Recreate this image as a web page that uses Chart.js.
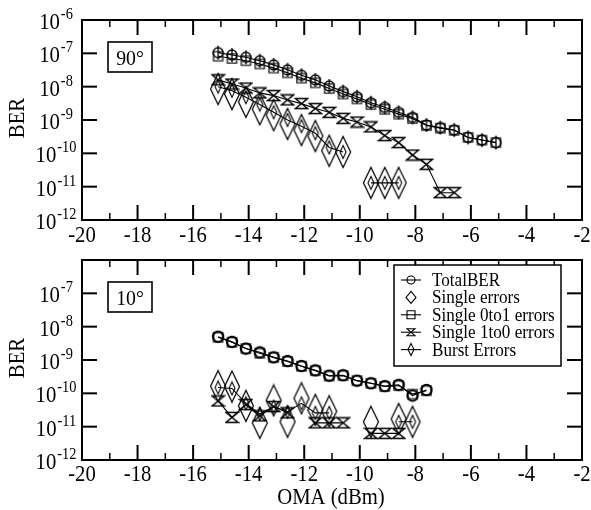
<!DOCTYPE html>
<html>
<head>
<meta charset="utf-8">
<script src="https://cdn.jsdelivr.net/npm/chart.js@4.4.1/dist/chart.umd.min.js"></script>
<style>
  html, body { margin: 0; padding: 0; background: #fff; }
  #wrap { position: relative; width: 591px; height: 510px; }
  canvas { position: absolute; left: 0; }
</style>
</head>
<body>
<div id="wrap">
  <canvas id="top" width="591" height="250" style="top:0"></canvas>
  <canvas id="bot" width="591" height="260" style="top:250px"></canvas>
</div>
<script>
// OMA values (dBm) shared by all series
const omaX = [-15.1, -14.6, -14.1, -13.6, -13.1, -12.6, -12.1, -11.6, -11.1, -10.6,
  -10.1, -9.6, -9.1, -8.6, -8.1, -7.6, -7.1, -6.6, -6.1, -5.6, -5.1];
const xTickLabels = [-20, -18, -16, -14, -12, -10, -8, -6, -4, -2];
const decadesTop = [-12, -11, -10, -9, -8, -7, -6];
const decadesBot = [-12, -11, -10, -9, -8, -7];
const seriesNames = ['TotalBER', 'Single errors', 'Single 0to1 errors', 'Single 1to0 errors', 'Burst Errors'];

// 90 degree panel
const total90 = [1.05e-7, 8.9e-8, 7.6e-8, 6.0e-8, 4.5e-8, 3.2e-8, 2.2e-8, 1.6e-8, 1.05e-8, 7.1e-9,
  5.0e-9, 3.3e-9, 2.4e-9, 1.7e-9, 1.2e-9, 7.1e-10, 5.9e-10, 5.0e-10, 3.0e-10, 2.5e-10, 2.1e-10];
const single0to1_90 = [8.2e-8, 7.0e-8, 6.0e-8, 4.8e-8, 3.6e-8, 2.6e-8, 1.8e-8, 1.3e-8, 8.8e-9, 6.0e-9,
  4.3e-9, 2.9e-9, 2.1e-9, 1.5e-9, 1.1e-9, 6.8e-10, 5.7e-10, 4.9e-10, 3.0e-10, 2.5e-10, 2.1e-10];
const single1to0_90 = [1.6e-8, 1.2e-8, 9.1e-9, 6.5e-9, 5.4e-9, 4.0e-9, 3.1e-9, 2.2e-9, 1.7e-9, 1.12e-9,
  8.7e-10, 6.2e-10, 3.4e-10, 2.1e-10, 8.9e-11, 4.7e-11, 6.6e-12, 6.6e-12, null, null, null];
const single90 = [8.5e-9, 6.0e-9, 3.5e-9, 2.1e-9, 1.4e-9, 7.6e-10, 5.0e-10, 3.3e-10, 1.2e-10, 1.1e-10,
  null, 1.3e-11, 1.3e-11, 1.3e-11, null, null, null, null, null, null, null];
const burst90 = [1.0e-8, 7.5e-9, 4.8e-9, 2.9e-9, 1.7e-9, 1.0e-9, 6.5e-10, 4.0e-10, 1.5e-10, 1.1e-10,
  null, 1.3e-11, 1.3e-11, 1.3e-11, null, null, null, null, null, null, null];

// 10 degree panel
const total10 = [5.0e-9, 3.5e-9, 2.2e-9, 1.7e-9, 1.2e-9, 9.3e-10, 6.6e-10, 4.9e-10, 3.4e-10, 3.5e-10,
  2.4e-10, 2.0e-10, 1.65e-10, 1.8e-10, 8.6e-11, 1.26e-10, null, null, null, null, null];
const single0to1_10 = [4.8e-9, 3.4e-9, 2.2e-9, 1.6e-9, 1.2e-9, 9.0e-10, 6.5e-10, 4.8e-10, 3.3e-10, 3.4e-10,
  2.4e-10, 2.0e-10, 1.6e-10, 1.7e-10, 9.5e-11, 1.2e-10, null, null, null, null, null];
const single1to0_10 = [5.9e-11, 1.9e-11, 4.6e-11, 2.1e-11, 4.0e-11, 2.6e-11, null, 1.3e-11, 1.3e-11, 1.3e-11,
  null, 6.3e-12, 6.3e-12, 6.3e-12, null, null, null, null, null, null, null];
const single10 = [1.65e-10, 1.6e-10, 4.2e-11, 1.3e-11, 6.1e-11, 1.4e-11, 7.1e-11, 3.2e-11, 2.9e-11, null,
  null, 1.4e-11, null, 1.7e-11, 1.4e-11, null, null, null, null, null, null];
const burst10 = [1.5e-10, 1.4e-10, 5.0e-11, 2.4e-11, 4.0e-11, 2.8e-11, 5.0e-11, 2.6e-11, 2.6e-11, null,
  null, null, null, 1.4e-11, 1.4e-11, null, null, null, null, null, null];

const FONT = '"Liberation Serif", "DejaVu Serif", serif';

// marker shapes
function circle(g, cx, cy, rx) { g.moveTo(cx + rx, cy); g.arc(cx, cy, rx, 0, Math.PI * 2); }
function square(g, cx, cy, rx) { g.rect(cx - rx, cy - rx, 2 * rx, 2 * rx); }
function hourglass(g, cx, cy, rx, ry) {
  g.moveTo(cx - rx, cy - ry); g.lineTo(cx + rx, cy - ry);
  g.lineTo(cx - rx, cy + ry); g.lineTo(cx + rx, cy + ry); g.closePath();
}
function diamond(g, cx, cy, rx, ry) {
  g.moveTo(cx, cy - ry); g.lineTo(cx + rx, cy); g.lineTo(cx, cy + ry); g.lineTo(cx - rx, cy); g.closePath();
}
function errbar(g, cx, cy, rx, ry) { circle(g, cx, cy, rx); g.moveTo(cx, cy - ry); g.lineTo(cx, cy + ry); }

function mk(w, h, lw, color, fn, rx, ry) {
  const c = document.createElement('canvas');
  c.width = w; c.height = h;
  const g = c.getContext('2d');
  g.strokeStyle = color; g.lineWidth = lw;
  g.beginPath(); fn(g, w / 2, h / 2, rx, ry); g.stroke();
  return c;
}

const mkCircleBar = mk(14, 16, 1.3, '#000', errbar, 5, 7);
const mkCircleBold = mk(14, 14, 2, '#000', circle, 5.2);
const mkSquare = mk(13, 13, 1.4, '#222', square, 4.6);
const mkHour = mk(15, 13, 1.4, '#000', hourglass, 6, 5);
const mkTall = mk(18, 34, 1.25, '#000', diamond, 7.5, 15.5);
const mkNarrow = mk(10, 16, 1.1, '#000', diamond, 3, 6.5);

function ds(label, data, style, line) {
  return {
    label: label,
    data: omaX.map((x, i) => ({ x: x, y: data[i] })),
    pointStyle: style,
    pointRadius: 5,
    showLine: line,
    borderColor: '#000',
    backgroundColor: 'rgba(0,0,0,0)',
    borderWidth: 1.1,
    tension: 0,
    spanGaps: false
  };
}

function txt(ctx, s, x, y, size, align, base) {
  ctx.save();
  ctx.translate(x, y);
  ctx.scale(0.9, 1);
  ctx.font = size + 'px ' + FONT;
  ctx.textAlign = align || 'left';
  ctx.textBaseline = base || 'alphabetic';
  ctx.fillText(s, 0, 0);
  ctx.restore();
}
function tw(ctx, s, size) {
  ctx.font = size + 'px ' + FONT;
  return ctx.measureText(s).width * 0.9;
}
function seg(ctx, x1, y1, x2, y2) { ctx.beginPath(); ctx.moveTo(x1, y1); ctx.lineTo(x2, y2); ctx.stroke(); }

const panelInfo = {
  top: { label: '90\u00b0', decades: decadesTop, xLabelGap: 22, title: false, legend: false },
  bot: { label: '10\u00b0', decades: decadesBot, xLabelGap: 21, title: true, legend: true }
};

const legendItems = [
  { line: true, fn: circle, rx: 4, ry: 4 },
  { line: false, fn: diamond, rx: 5, ry: 6 },
  { line: true, fn: square, rx: 4, ry: 4 },
  { line: true, fn: hourglass, rx: 4, ry: 3.5 },
  { line: true, fn: diamond, rx: 3, ry: 6 }
];

const framePlugin = {
  id: 'frame',
  afterDraw(chart) {
    const info = panelInfo[chart.canvas.id];
    const { ctx, chartArea: a, scales: { x, y } } = chart;
    ctx.save();
    ctx.strokeStyle = '#000';
    ctx.fillStyle = '#000';

    // x ticks, inward on top and bottom
    for (let v = -19; v < -2; v++) {
      const px = x.getPixelForValue(v);
      const major = v % 2 === 0;
      ctx.lineWidth = major ? 2 : 1.5;
      const len = major ? 15 : 7;
      seg(ctx, px, a.bottom, px, a.bottom - len);
      seg(ctx, px, a.top, px, a.top + len);
    }
    // y ticks, inward on left and right
    ctx.lineWidth = 2;
    for (let d = -11; d < -6; d++) {
      const py = y.getPixelForValue(Math.pow(10, d));
      seg(ctx, a.left, py, a.left + 15, py);
      seg(ctx, a.right, py, a.right - 15, py);
    }
    ctx.strokeRect(a.left, a.top, a.right - a.left, a.bottom - a.top);

    // x tick labels
    xTickLabels.forEach(v => {
      txt(ctx, String(v), x.getPixelForValue(v), a.bottom + info.xLabelGap, 23, 'center');
    });
    // y tick labels 10^n
    info.decades.forEach(d => {
      const py = y.getPixelForValue(Math.pow(10, d));
      const e = String(d);
      const w1 = tw(ctx, '10', 23), w2 = tw(ctx, e, 16);
      const x0 = 56 - (w1 + w2 + 1) / 2;
      txt(ctx, '10', x0, py + 9, 23, 'left');
      txt(ctx, e, x0 + w1 + 1, py - 1, 16, 'left');
    });
    // y title
    ctx.save();
    ctx.translate(18, (a.top + a.bottom) / 2 - 2);
    ctx.rotate(-Math.PI / 2);
    txt(ctx, 'BER', 0, 0, 23, 'center', 'middle');
    ctx.restore();

    if (info.title) {
      txt(ctx, 'OMA (dBm)', 331, a.bottom + 44, 23, 'center');
    }

    // panel angle box
    ctx.lineWidth = 1.6;
    const bx = a.left + 26, by = a.top + 22;
    ctx.strokeRect(bx, by, 44, 30);
    txt(ctx, info.label, bx + 22, by + 23, 22, 'center');

    if (info.legend) {
      ctx.lineWidth = 1.5;
      const lx = 394, ly = a.top + 5, lwid = 167, lh = 101;
      ctx.fillStyle = '#fff';
      ctx.fillRect(lx, ly, lwid, lh);
      ctx.fillStyle = '#000';
      ctx.strokeRect(lx, ly, lwid, lh);
      legendItems.forEach((it, i) => {
        const cy = ly + 15 + i * 17.4;
        ctx.lineWidth = 1.1;
        if (it.line) seg(ctx, 401, cy, 421, cy);
        ctx.beginPath();
        it.fn(ctx, 411, cy, it.rx, it.ry);
        ctx.stroke();
        txt(ctx, seriesNames[i], 432, cy + 6, 19, 'left');
      });
    }
    ctx.restore();
  }
};

function makePanel(id, datasets, padTop, padBottom) {
  return new Chart(document.getElementById(id), {
    type: 'scatter',
    data: { datasets: datasets },
    options: {
      responsive: false,
      animation: false,
      devicePixelRatio: 1,
      layout: { padding: { left: 82, right: 9, top: padTop, bottom: padBottom } },
      plugins: { legend: { display: false }, tooltip: { enabled: false } },
      scales: {
        x: { type: 'linear', min: -20, max: -2, display: false },
        y: { type: 'logarithmic', min: 1e-12, max: 1e-6, display: false }
      }
    },
    plugins: [framePlugin]
  });
}

makePanel('top', [
  ds(seriesNames[0], total90, mkCircleBar, true),
  ds(seriesNames[2], single0to1_90, mkSquare, true),
  ds(seriesNames[3], single1to0_90, mkHour, true),
  ds(seriesNames[4], burst90, mkNarrow, true),
  ds(seriesNames[1], single90, mkTall, false)
], 20, 30);

makePanel('bot', [
  ds(seriesNames[0], total10, mkCircleBold, true),
  ds(seriesNames[2], single0to1_10, mkSquare, true),
  ds(seriesNames[3], single1to0_10, mkHour, true),
  ds(seriesNames[4], burst10, mkNarrow, true),
  ds(seriesNames[1], single10, mkTall, false)
], 10, 50);
</script>
</body>
</html>
